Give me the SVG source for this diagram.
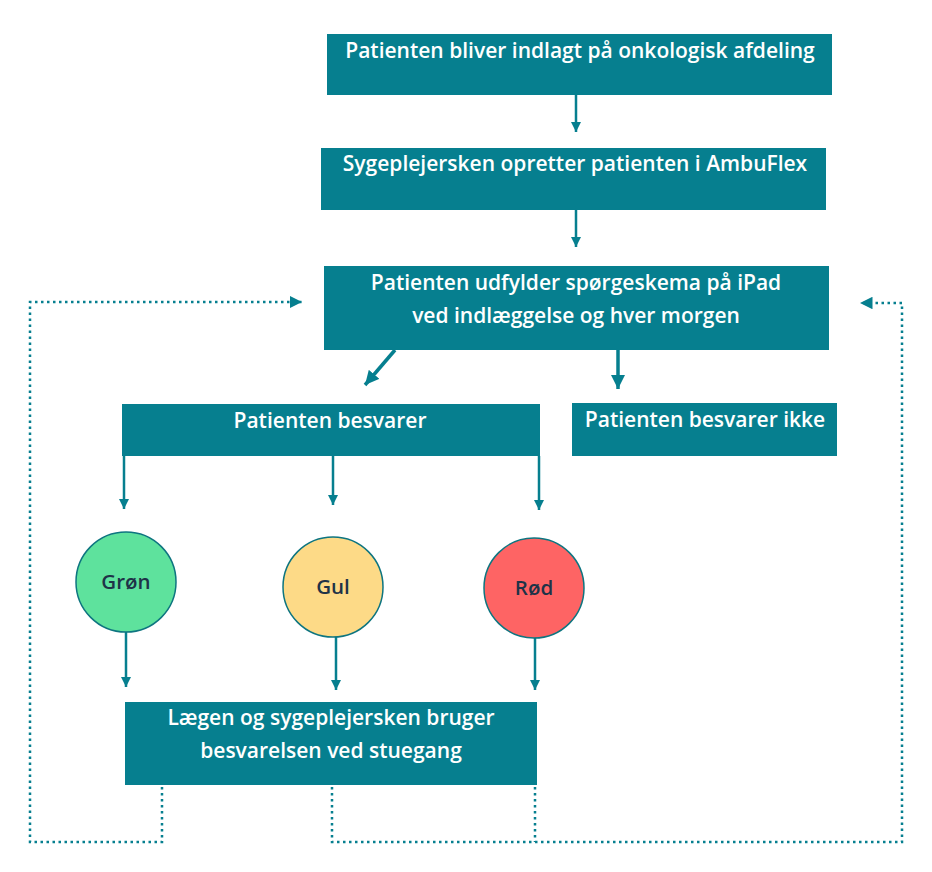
<svg xmlns="http://www.w3.org/2000/svg" width="932" height="872" viewBox="0 0 932 872">
<defs>
<style>
.box{fill:#067F8F}
.t{font-family:"Open Sans","Liberation Sans",sans-serif;font-size:21px;font-weight:600;fill:#ffffff;text-anchor:middle}
.ct{font-family:"Open Sans","Liberation Sans",sans-serif;font-size:20.5px;font-weight:600;fill:#1E3348;text-anchor:middle}
.circ{stroke:#0E7580;stroke-width:1.5}
.ln{stroke:#067F8F;stroke-width:2.5;fill:none}
.dot{stroke:#067F8F;stroke-width:2.5;fill:none;stroke-dasharray:2.5 3.5}
</style>
<marker id="ah" viewBox="0 0 10 10" refX="10" refY="5" markerWidth="4" markerHeight="4" orient="auto" markerUnits="strokeWidth">
<path d="M0,0 L10,5 L0,10 z" fill="#067F8F"/>
</marker>
<marker id="ahs" viewBox="0 0 10 10" refX="10" refY="5" markerWidth="5" markerHeight="5" orient="auto" markerUnits="strokeWidth">
<path d="M0,0 L10,5 L0,10 z" fill="#067F8F"/>
</marker>
</defs>
<rect width="932" height="872" fill="#ffffff"/>
<g id="connectors">
<line class="ln" x1="576" y1="95" x2="576" y2="132" marker-end="url(#ah)"/>
<line class="ln" x1="576" y1="210" x2="576" y2="247" marker-end="url(#ah)"/>
<line class="ln" x1="395" y1="350" x2="365" y2="385" style="stroke-width:3.5" marker-end="url(#ah)"/>
<line class="ln" x1="618" y1="350" x2="618" y2="389" style="stroke-width:3.5" marker-end="url(#ah)"/>
<line class="ln" x1="124" y1="456" x2="124" y2="509" marker-end="url(#ah)"/>
<line class="ln" x1="333" y1="456" x2="333" y2="505" marker-end="url(#ah)"/>
<line class="ln" x1="539" y1="456" x2="539" y2="510" marker-end="url(#ah)"/>
<line class="ln" x1="126" y1="632" x2="126" y2="687" marker-end="url(#ah)"/>
<line class="ln" x1="336" y1="636" x2="336" y2="690" marker-end="url(#ah)"/>
<line class="ln" x1="535" y1="637" x2="535" y2="690" marker-end="url(#ah)"/>
<polyline class="dot" points="162,787 162,842 30,842 30,302 302,302" marker-end="url(#ahs)"/>
<polyline class="dot" points="332,787 332,842 902,842 902,303 860,303" marker-end="url(#ahs)"/>
<line class="dot" x1="535" y1="787" x2="535" y2="842"/>
</g>
<g id="n1"><rect class="box" x="327" y="34" width="505" height="61"/><text class="t" x="580" y="58">Patienten bliver indlagt på onkologisk afdeling</text></g>
<g id="n2"><rect class="box" x="321" y="148" width="505" height="62"/><text class="t" x="575" y="171">Sygeplejersken opretter patienten i AmbuFlex</text></g>
<g id="n3"><rect class="box" x="324" y="266" width="505" height="84"/><text class="t" x="576" y="290">Patienten udfylder spørgeskema på iPad</text><text class="t" x="576" y="323">ved indlæggelse og hver morgen</text></g>
<g id="n4"><rect class="box" x="122" y="404" width="418" height="52"/><text class="t" x="330" y="428">Patienten besvarer</text></g>
<g id="n5"><rect class="box" x="572" y="403" width="265" height="53"/><text class="t" x="705" y="427">Patienten besvarer ikke</text></g>
<g id="n6"><circle class="circ" cx="126" cy="582" r="50" fill="#5EE29D"/><text class="ct" x="126" y="589">Grøn</text></g>
<g id="n7"><circle class="circ" cx="333" cy="587" r="50" fill="#FDDA87"/><text class="ct" x="333" y="594">Gul</text></g>
<g id="n8"><circle class="circ" cx="534" cy="588" r="50" fill="#FE6464"/><text class="ct" x="534" y="595">Rød</text></g>
<g id="n9"><rect class="box" x="125" y="702" width="412" height="83"/><text class="t" x="331" y="725">Lægen og sygeplejersken bruger</text><text class="t" x="331" y="758">besvarelsen ved stuegang</text></g>
</svg>
